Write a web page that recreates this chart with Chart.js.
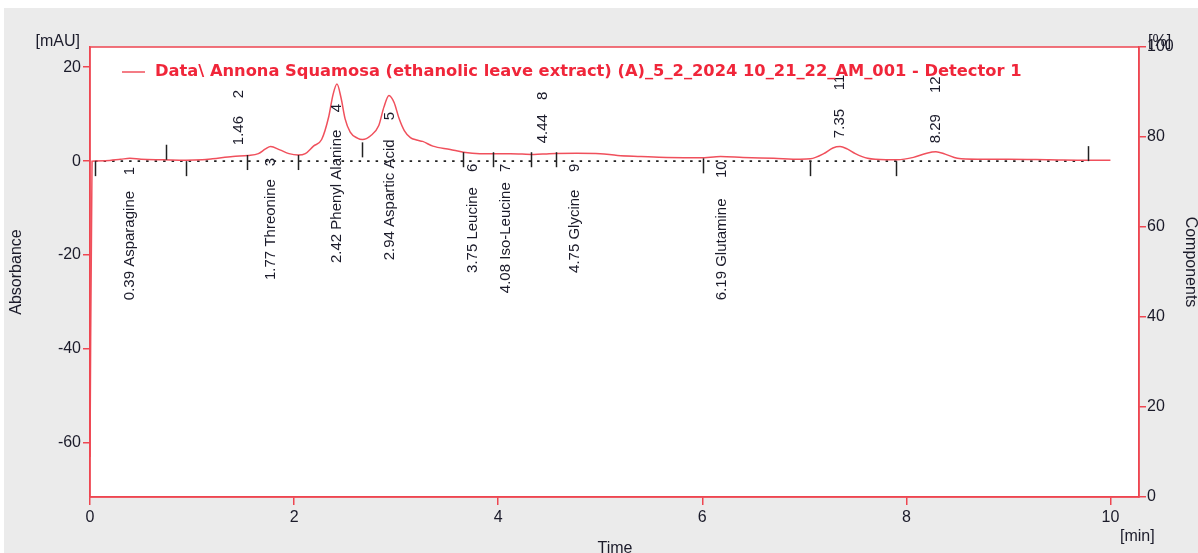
<!DOCTYPE html>
<html>
<head>
<meta charset="utf-8">
<script src="https://cdn.jsdelivr.net/npm/chart.js@4.4.1/dist/chart.umd.min.js"></script>
<style>
  html, body { margin: 0; padding: 0; background: #fff; }
  #wrap { position: relative; width: 1198px; height: 553px; }
</style>
</head>
<body>
<div id="wrap"><canvas id="chart" width="1198" height="553"></canvas></div>
<script>
// chromatogram trace (time in min, absorbance in mAU)
const times = [0, 0.02, 0.15, 0.3, 0.39, 0.5, 0.72, 0.94, 1.1, 1.2, 1.4, 1.55, 1.65, 1.72, 1.77, 1.86, 1.95,
  2.04, 2.11, 2.19, 2.27, 2.34, 2.38, 2.42, 2.46, 2.5, 2.55, 2.62, 2.67, 2.75, 2.83, 2.88, 2.93, 2.98,
  3.03, 3.08, 3.14, 3.2, 3.26, 3.36, 3.53, 3.66, 3.82, 4.0, 4.12, 4.35, 4.5, 4.77, 5.0, 5.17, 5.4,
  5.65, 5.98, 6.18, 6.4, 6.7, 6.96, 7.06, 7.19, 7.28, 7.35, 7.42, 7.5, 7.62, 7.8, 7.91, 8.07, 8.2,
  8.29, 8.38, 8.5, 8.7, 9.0, 9.4, 9.78, 10.0];
const absorbance = [-63, 0, 0.1, 0.4, 0.6, 0.4, 0.3, 0.2, 0.3, 0.5, 1.0, 1.2, 1.6, 2.6, 3.1, 2.4, 1.6,
  1.3, 1.6, 3.2, 4.6, 9.5, 14, 16.4, 13.5, 9, 6.2, 4.9, 4.6, 5.4, 7.6, 11.5, 14.0, 12.5,
  9.0, 6.5, 5.0, 4.5, 4.2, 3.2, 2.5, 1.9, 1.6, 1.6, 1.6, 1.4, 1.6, 1.7, 1.6, 1.2, 1.0,
  0.8, 0.7, 1.0, 0.8, 0.6, 0.4, 0.5, 1.6, 2.8, 3.1, 2.6, 1.6, 0.6, 0.3, 0.3, 0.8, 1.7,
  2.0, 1.5, 0.6, 0.4, 0.4, 0.3, 0.2, 0.2];

// identified peaks
const peakNumbers = [1, 2, 3, 4, 5, 6, 7, 8, 9, 10, 11, 12];
const peakTimes = [0.39, 1.46, 1.77, 2.42, 2.94, 3.75, 4.08, 4.44, 4.75, 6.19, 7.35, 8.29];
const peakNames = ['Asparagine', '', 'Threonine', 'Phenyl Alanine', 'Aspartic Acid', 'Leucine',
  'Iso-Leucine', '', 'Glycine', 'Glutamine', '', ''];

// integration boundaries (min) and the curve level they start from (mAU)
const boundaryTimes = [0.05, 0.74, 0.94, 1.54, 2.04, 2.67, 3.66, 3.95, 4.32, 4.57, 6.01, 7.06, 7.90, 9.78];
const boundaryLevels = [0, 0.3, 0, 1.3, 1.3, 4.0, 1.9, 1.9, 1.9, 1.9, 0.6, 0, 0, 0];
const baselineRange = [0.05, 9.78];

// axis ticks
const timeTicks = [0, 2, 4, 6, 8, 10];
const absorbanceTicks = [20, 0, -20, -40, -60];
const componentTicks = [0, 20, 40, 60, 80, 100];

const legendText = 'Data\\ Annona Squamosa (ethanolic leave extract) (A)_5_2_2024 10_21_22_AM_001 - Detector 1';

// label placement (start of the rotated text, in mAU) -- layout only
const nameLabelStart = [-29.6, 3.4, -25.3, -21.7, -21.1, -23.8, -28.1, 3.8, -23.8, -29.6, 4.9, 3.8];
const numberLabelStart = [-3.0, 13.4, -1.1, 10.4, 8.7, -2.3, -2.3, 13.0, -2.3, -3.6, 15.1, 14.5];

const RED = '#ee4651';
const TRACE = '#f0505c';
const TEXT = '#1b1b2a';
const FONT = '"Liberation Sans", Arial, sans-serif';

const decorations = {
  id: 'decorations',
  beforeDraw(chart) {
    const { ctx, chartArea: a } = chart;
    ctx.save();
    ctx.fillStyle = '#ffffff';
    ctx.fillRect(0, 0, chart.width, chart.height);
    ctx.fillStyle = '#ebebeb';
    ctx.fillRect(4, 8, chart.width - 4, chart.height - 8);
    ctx.fillStyle = '#ffffff';
    ctx.fillRect(a.left, a.top, a.right - a.left, a.bottom - a.top);
    ctx.restore();
  },
  afterDatasetsDraw(chart) {
    const { ctx, chartArea: a, scales } = chart;
    const x = scales.x, y = scales.y;
    ctx.save();

    // boundary ticks
    ctx.strokeStyle = '#222';
    ctx.lineWidth = 1.5;
    boundaryTimes.forEach((t, i) => {
      const px = Math.round(x.getPixelForValue(t)) + 0.5;
      const py = y.getPixelForValue(boundaryLevels[i]);
      const up = (t === 0.74 || t === 9.78);
      ctx.beginPath();
      ctx.moveTo(px, py);
      ctx.lineTo(px, up ? py - 15 : py + 15);
      ctx.stroke();
    });

    // peak labels (rotated)
    ctx.fillStyle = TEXT;
    ctx.font = '15px ' + FONT;
    ctx.textBaseline = 'middle';
    ctx.textAlign = 'left';
    peakTimes.forEach((t, i) => {
      const px = x.getPixelForValue(t);
      const name = peakNames[i] ? t.toFixed(2) + ' ' + peakNames[i] : t.toFixed(2);
      ctx.save();
      ctx.translate(px, y.getPixelForValue(nameLabelStart[i]));
      ctx.rotate(-Math.PI / 2);
      ctx.fillText(name, 0, 0);
      ctx.restore();
      ctx.save();
      ctx.translate(px, y.getPixelForValue(numberLabelStart[i]));
      ctx.rotate(-Math.PI / 2);
      ctx.fillText(String(peakNumbers[i]), 0, 0);
      ctx.restore();
    });

    // legend inside plot, sized to span the same width as the original
    ctx.strokeStyle = TRACE;
    ctx.lineWidth = 1.5;
    ctx.beginPath();
    ctx.moveTo(122, 72);
    ctx.lineTo(145, 72);
    ctx.stroke();
    ctx.fillStyle = '#f0263a';
    ctx.font = 'bold 100px "DejaVu Sans", Verdana, sans-serif';
    const size = Math.min(17, 100 * 867 / ctx.measureText(legendText).width);
    ctx.font = 'bold ' + size.toFixed(1) + 'px "DejaVu Sans", Verdana, sans-serif';
    ctx.fillText(legendText, 155, 72);

    // frame
    ctx.strokeStyle = RED;
    ctx.lineWidth = 1.5;
    ctx.strokeRect(a.left, a.top, a.right - a.left, a.bottom - a.top);

    // axis titles
    ctx.fillStyle = TEXT;
    ctx.font = '16px ' + FONT;
    ctx.textAlign = 'right';
    ctx.fillText('[mAU]', 80, 42);
    ctx.textAlign = 'left';
    ctx.fillText('[%]', 1148, 42);
    ctx.fillText('[min]', 1120, 537);
    ctx.textAlign = 'center';
    ctx.fillText('Time', 615, 549);
    ctx.save();
    ctx.translate(17, 272);
    ctx.rotate(-Math.PI / 2);
    ctx.fillText('Absorbance', 0, 0);
    ctx.restore();
    ctx.save();
    ctx.translate(1190, 262);
    ctx.rotate(Math.PI / 2);
    ctx.fillText('Components', 0, 0);
    ctx.restore();

    ctx.restore();
  }
};

const tickFont = { family: FONT, size: 16 };

new Chart(document.getElementById('chart'), {
  type: 'line',
  data: {
    datasets: [
      {
        label: legendText,
        data: times.map((t, i) => ({ x: t, y: absorbance[i] })),
        borderColor: TRACE,
        borderWidth: 1.5,
        pointRadius: 0,
        cubicInterpolationMode: 'monotone',
        yAxisID: 'y'
      },
      {
        label: 'baseline',
        data: baselineRange.map(t => ({ x: t, y: 0 })),
        borderColor: '#222',
        borderWidth: 1.6,
        borderDash: [2.5, 6],
        pointRadius: 0,
        yAxisID: 'y'
      }
    ]
  },
  options: {
    responsive: false,
    animation: false,
    layout: { padding: { top: 47, left: 0, right: 0, bottom: 0 } },
    plugins: { legend: { display: false }, tooltip: { enabled: false } },
    scales: {
      x: {
        type: 'linear', min: 0, max: 10.28,
        afterFit(s) { s.height = 56; },
        afterBuildTicks(s) { s.ticks = timeTicks.map(v => ({ value: v })); },
        ticks: { font: tickFont, color: TEXT, padding: 3, maxRotation: 0 },
        grid: { drawOnChartArea: false, color: RED, tickLength: 8, lineWidth: 1.5 },
        border: { color: RED, width: 1.5 }
      },
      y: {
        type: 'linear', position: 'left', min: -71.5, max: 24.3,
        afterFit(s) { s.width = 90; },
        afterBuildTicks(s) { s.ticks = absorbanceTicks.map(v => ({ value: v })); },
        ticks: { font: tickFont, color: TEXT, padding: 2 },
        grid: { drawOnChartArea: false, color: RED, tickLength: 7, lineWidth: 1.5 },
        border: { color: RED, width: 1.5 }
      },
      y2: {
        type: 'linear', position: 'right', min: 0, max: 100,
        afterFit(s) { s.width = 59; },
        afterBuildTicks(s) { s.ticks = componentTicks.map(v => ({ value: v })); },
        ticks: { font: tickFont, color: TEXT, padding: 1 },
        grid: { drawOnChartArea: false, color: RED, tickLength: 7, lineWidth: 1.5 },
        border: { color: RED, width: 1.5 }
      }
    }
  },
  plugins: [decorations]
});
</script>
</body>
</html>
